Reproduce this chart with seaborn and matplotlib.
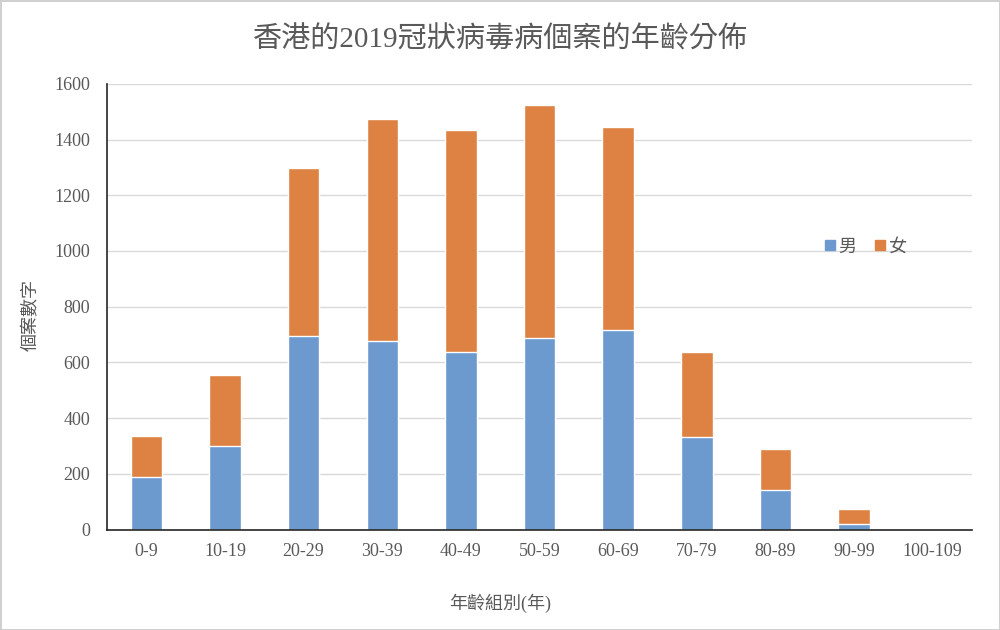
import seaborn as sns
import matplotlib.pyplot as plt
from matplotlib.lines import Line2D
import pandas as pd

age_groups = ["0-9", "10-19", "20-29", "30-39", "40-49", "50-59",
              "60-69", "70-79", "80-89", "90-99", "100-109"]
male = [189, 299, 695, 675, 638, 686, 715, 333, 141, 20, 0]
female = [146, 257, 602, 800, 795, 837, 731, 305, 148, 53, 0]

df = pd.DataFrame({"年齡組別": age_groups, "男": male, "女": female})
df["合計"] = df["男"] + df["女"]

blue = "#6c9acf"
orange = "#dd8243"
txt = "#595959"
fam = ["Liberation Serif", "Noto Sans CJK TC", "DejaVu Sans"]

sns.set_theme(style="whitegrid")
plt.rcParams["font.family"] = fam

fig = plt.figure(figsize=(10, 6.3), dpi=100)
fig.patch.set_edgecolor("#d0d0d0")
fig.patch.set_linewidth(2)
ax = fig.add_axes([0.107, 0.1595, 0.865, 0.7075])

sns.barplot(data=df, x="年齡組別", y="合計", color=orange, width=0.4,
            saturation=1, ax=ax)
sns.barplot(data=df, x="年齡組別", y="男", color=blue, width=0.4,
            saturation=1, ax=ax)

ax.set_ylim(0, 1600)
ax.set_xlim(-0.5, len(age_groups) - 0.5)
ax.set_yticks(range(0, 1601, 200))
ax.grid(axis="y", color="#d9d9d9", linewidth=1)
ax.grid(axis="x", visible=False)
ax.set_axisbelow(True)
for s in ["top", "right"]:
    ax.spines[s].set_visible(False)
ax.spines["left"].set_color("#262626")
ax.spines["bottom"].set_color("#262626")
ax.spines["left"].set_linewidth(1.2)
ax.spines["bottom"].set_linewidth(1.2)
ax.tick_params(axis="both", length=0, labelsize=13, colors=txt, pad=10)
ax.tick_params(axis="y", pad=12)

ax.set_xlabel("")
ax.set_ylabel("")
fig.text(0.5, 0.043, "年齡組別(年)", ha="center", va="center",
         fontsize=13, color=txt)
fig.text(0.032, 0.5, "個案數字", ha="center", va="center", rotation=90,
         fontsize=13, color=txt)
fig.text(0.5, 0.937, "香港的2019冠狀病毒病個案的年齡分佈", ha="center",
         va="center", fontsize=21, color=txt)

handles = [Line2D([], [], marker="s", linestyle="none", color=blue, markersize=7),
           Line2D([], [], marker="s", linestyle="none", color=orange, markersize=7)]
ax.legend(handles, ["男", "女"], ncol=2, frameon=False, loc="center",
          bbox_to_anchor=(0.876, 0.634), fontsize=13, labelcolor=txt,
          handletextpad=0.1, columnspacing=0.9, handlelength=0.8)

fig.savefig("out.png", dpi=100)
